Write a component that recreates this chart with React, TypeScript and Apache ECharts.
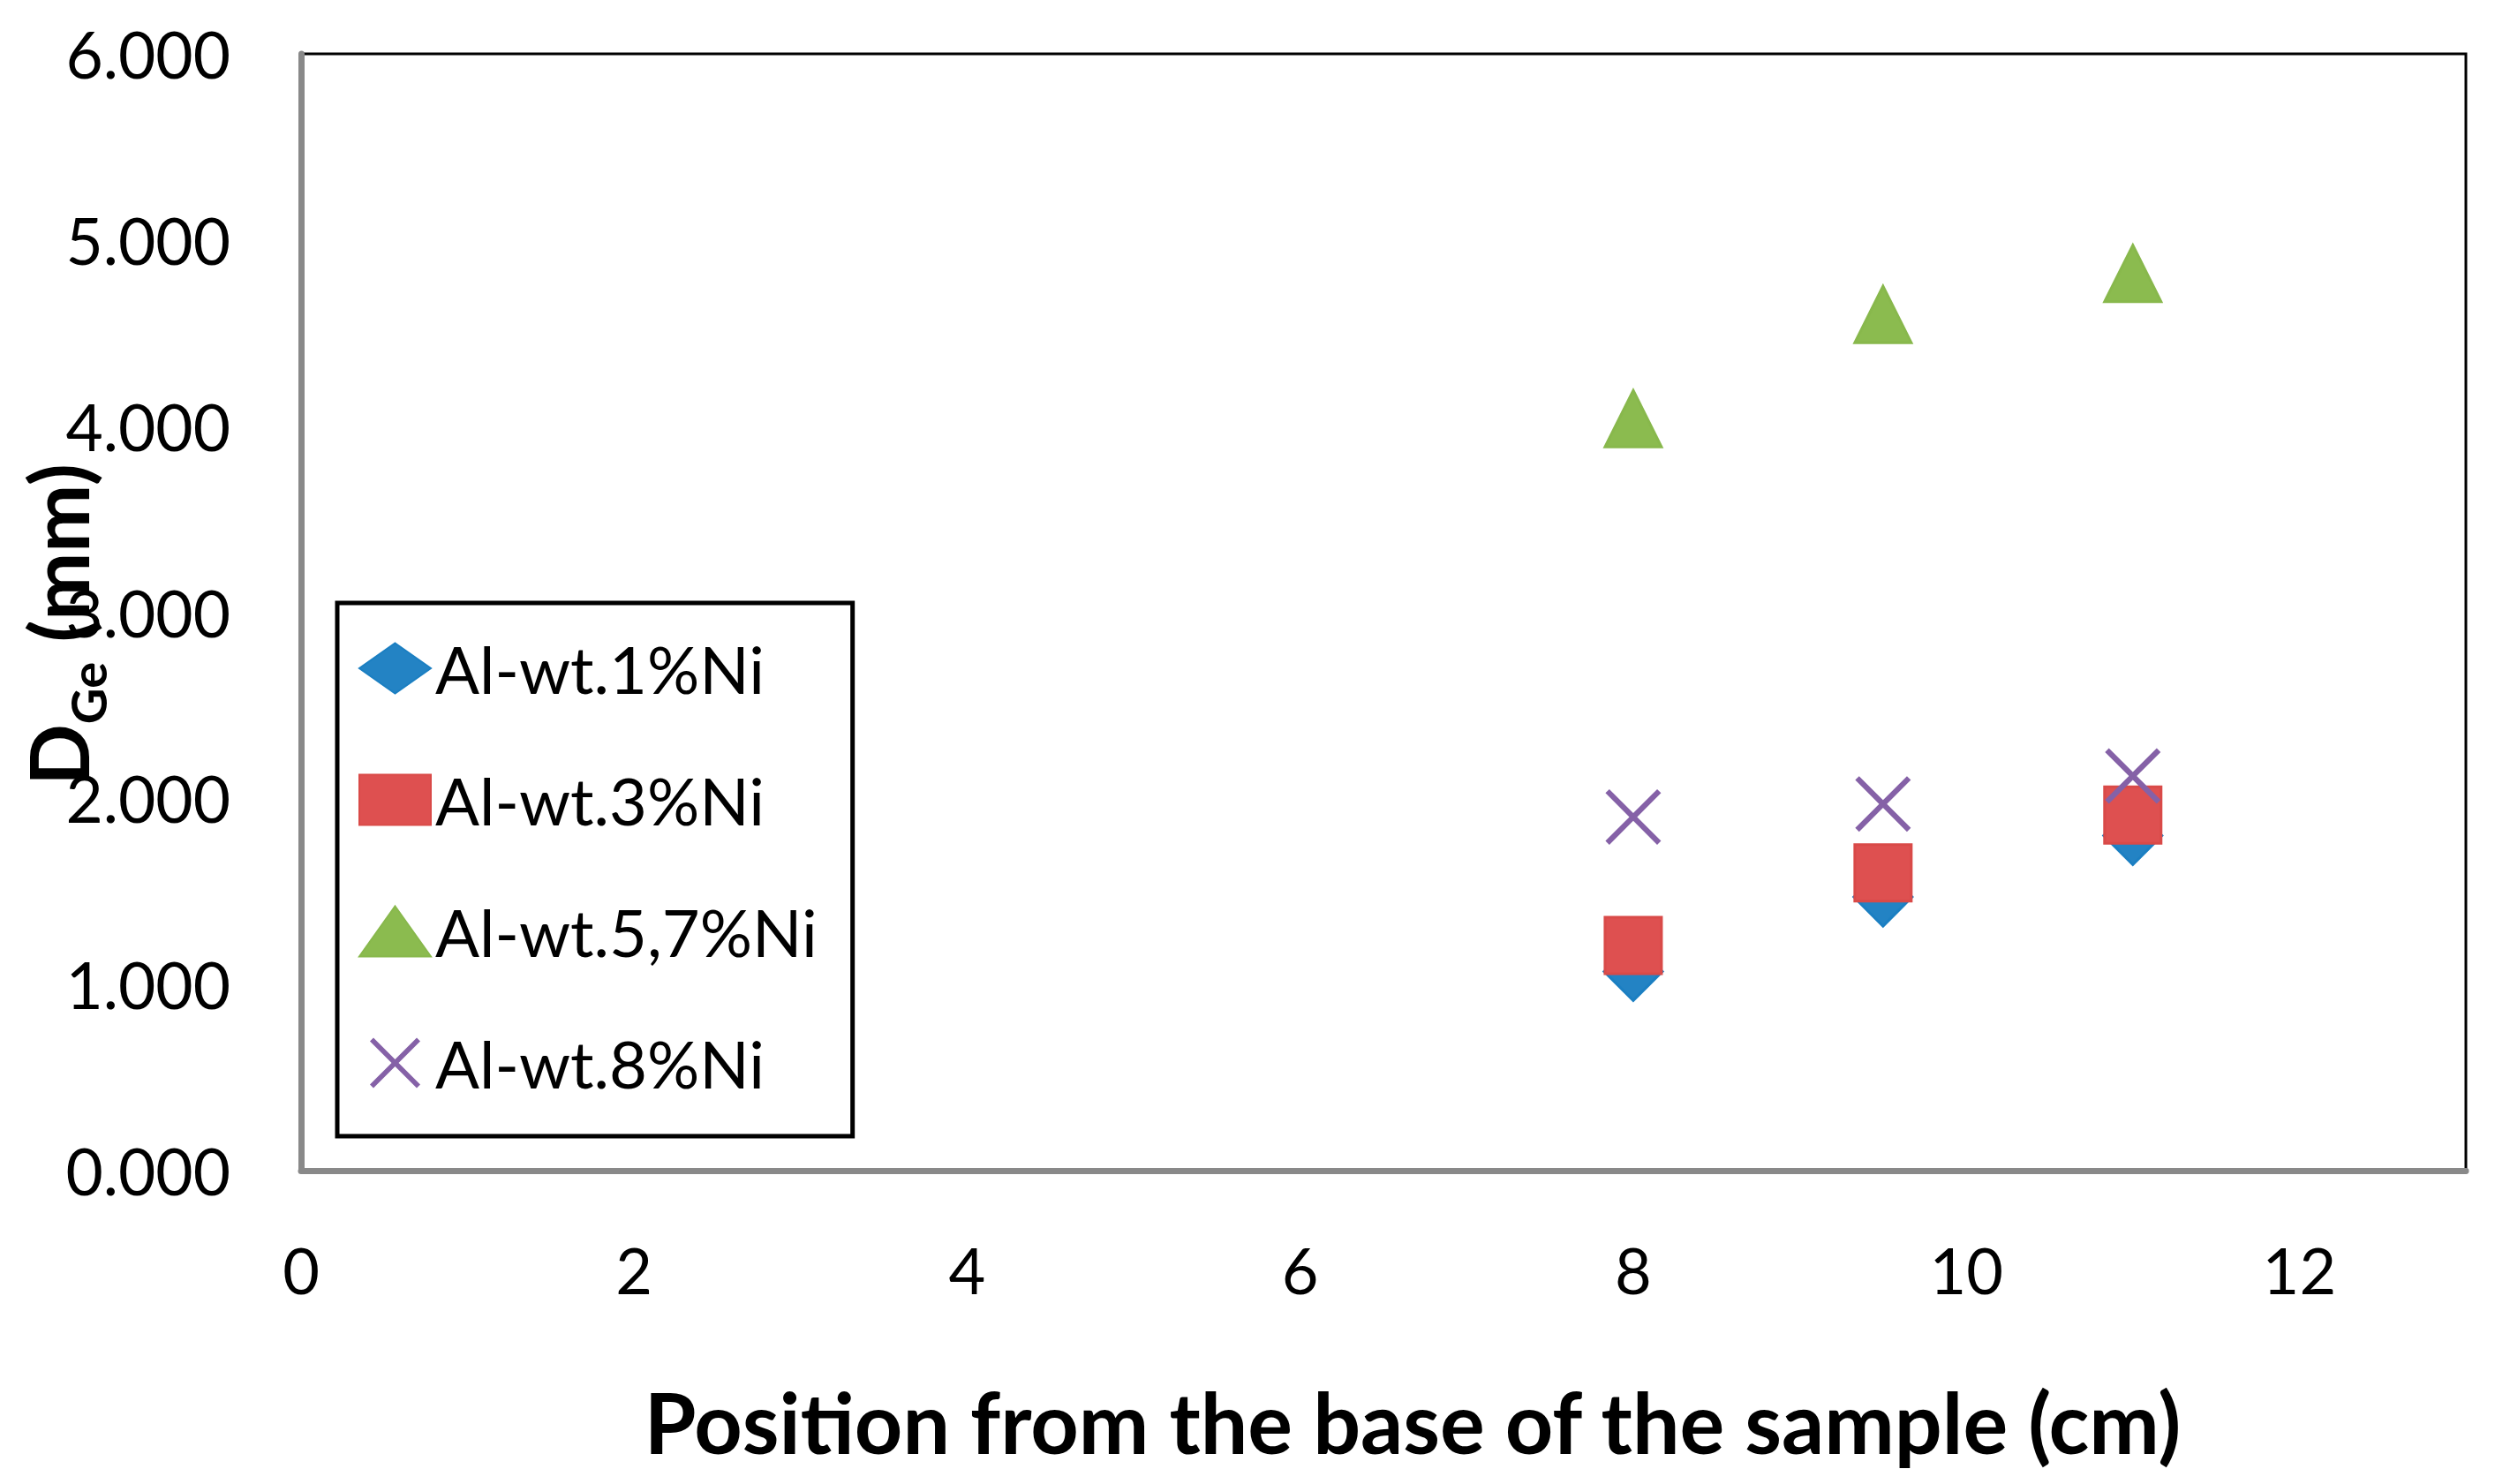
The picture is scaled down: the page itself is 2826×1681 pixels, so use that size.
import React, { useEffect, useRef } from 'react';
import * as echarts from 'echarts';

// position from the base of the sample (cm)
const positions = [8, 9.5, 11];
const ni1 = [1.07, 1.47, 1.8];
const ni3 = [1.21, 1.6, 1.91];
const ni57 = [4.04, 4.6, 4.82];
const ni8 = [1.9, 1.97, 2.12];
const seriesNames = ['Al-wt.1%Ni', 'Al-wt.3%Ni', 'Al-wt.5,7%Ni', 'Al-wt.8%Ni'];

const crossPath =
  'path://M7,0 L50,43 L93,0 L100,7 L57,50 L100,93 L93,100 L50,57 L7,100 L0,93 L43,50 L0,7 Z';

const pairs = (ys: number[]) => positions.map((x, i) => [x, ys[i]]);

export default function App() {
  const ref = useRef<HTMLDivElement>(null);
  useEffect(() => {
    if (!ref.current) return;
    const chart = echarts.init(ref.current, null, { renderer: 'svg' });
    const font = 'Lato, sans-serif';
    chart.setOption({
      animation: false,
      backgroundColor: '#fff',
      grid: {
        left: 341, right: 33, top: 61, bottom: 355,
        show: true, borderColor: '#000', borderWidth: 3,
        outerBoundsMode: 'none',
      },
      legend: {
        orient: 'vertical', left: 382, top: 683,
        padding: [37, 40, 46, 24],
        itemWidth: 81, itemHeight: 57, itemGap: 75,
        borderColor: '#000', borderWidth: 5, borderRadius: 0,
        textStyle: { fontFamily: font, fontSize: 74, color: '#000' },
        data: seriesNames,
      },
      xAxis: {
        type: 'value', min: 0, max: 13, interval: 2,
        name: 'Position from the base of the sample (cm)',
        nameLocation: 'middle', nameGap: 236, nameMoveOverlap: false,
        nameTextStyle: { fontFamily: font, fontSize: 95, fontWeight: 'bold', color: '#000', padding: [0, 0, 0, 66] },
        axisLine: { show: true, lineStyle: { color: '#898989', width: 7 } },
        axisTick: { show: false },
        splitLine: { show: false },
        axisLabel: { fontFamily: font, fontSize: 72, color: '#000', margin: 76, showMaxLabel: false },
      },
      yAxis: {
        type: 'value', min: 0, max: 6, interval: 1,
        name: '{a|D}{b|Ge}{a| (mm)}',
        nameLocation: 'middle', nameRotate: 90, nameGap: 230, nameMoveOverlap: false,
        nameTextStyle: {
          padding: [0, 28, 0, 0],
          rich: {
            a: { fontFamily: font, fontSize: 92, lineHeight: 92, fontWeight: 'bold', color: '#000' },
            b: { fontFamily: font, fontSize: 56, lineHeight: 56, fontWeight: 'bold', color: '#000', padding: [68, 0, 0, 0] },
          },
        },
        axisLine: { show: true, lineStyle: { color: '#898989', width: 7 } },
        axisTick: { show: false },
        splitLine: { show: false },
        axisLabel: {
          fontFamily: font, fontSize: 73, color: '#000', margin: 80,
          formatter: (v: number) => v.toFixed(3),
        },
      },
      series: [
        {
          name: seriesNames[0], type: 'scatter', symbol: 'diamond', symbolSize: 66,
          itemStyle: { color: '#2383C4', borderColor: '#1B7FC2', borderWidth: 3, opacity: 1 },
          data: pairs(ni1),
        },
        {
          name: seriesNames[1], type: 'scatter', symbol: 'rect', symbolSize: 64,
          itemStyle: { color: '#DE5050', borderColor: '#D94A48', borderWidth: 3, opacity: 1 },
          data: pairs(ni3),
        },
        {
          name: seriesNames[2], type: 'scatter', symbol: 'triangle', symbolSize: 64,
          itemStyle: { color: '#8BBB4F', borderColor: '#88B84C', borderWidth: 3, opacity: 1 },
          data: pairs(ni57),
        },
        {
          name: seriesNames[3], type: 'scatter', symbol: crossPath, symbolSize: 63,
          itemStyle: { color: '#8561A7', opacity: 1 },
          data: pairs(ni8),
        },
      ],
    });
    return () => chart.dispose();
  }, []);
  return (
    <div
      ref={ref}
      style={{ position: 'fixed', left: 0, top: 0, width: 2826, height: 1681 }}
    />
  );
}
